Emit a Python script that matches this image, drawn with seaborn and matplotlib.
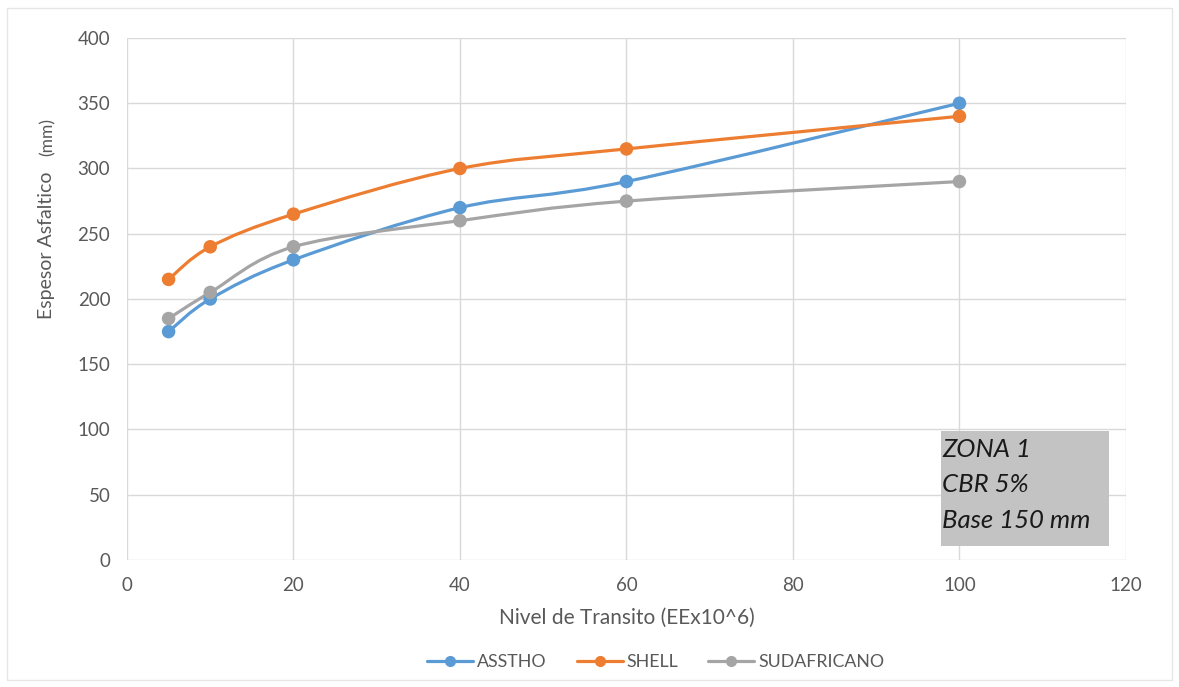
import numpy as np
import pandas as pd
import matplotlib
matplotlib.use("Agg")
import matplotlib.pyplot as plt
from matplotlib.path import Path
from matplotlib.patches import PathPatch, Rectangle
from matplotlib.lines import Line2D
import seaborn as sns

# Traffic levels (EE x 10^6) and asphalt thickness (mm) per design method
transito = [5, 10, 20, 40, 60, 100]
asstho = [175, 200, 230, 270, 290, 350]
shell = [215, 240, 265, 300, 315, 340]
sudafricano = [185, 205, 240, 260, 275, 290]

series_names = ["ASSTHO", "SHELL", "SUDAFRICANO"]
colors = ["#5B9BD5", "#ED7D31", "#A5A5A5"]

df = pd.DataFrame({
    "Nivel": transito * 3,
    "Espesor": asstho + shell + sudafricano,
    "Metodo": [n for n in series_names for _ in transito],
})

sns.set_theme(style="whitegrid")
plt.rcParams["font.family"] = ["Lato", "DejaVu Sans"]
text_color = "#595959"

fig = plt.figure(figsize=(11.79, 6.87), dpi=100)
ax = fig.add_axes([0.1077, 0.1849, 0.8473, 0.7598])


def smooth_path(xs, ys):
    """Catmull-Rom style Bezier path through the points (spreadsheet smoothing)."""
    pts = np.column_stack([xs, ys]).astype(float)
    n = len(pts)
    verts = [pts[0]]
    codes = [Path.MOVETO]
    for i in range(n - 1):
        p0 = pts[i - 1] if i > 0 else pts[i]
        p1 = pts[i]
        p2 = pts[i + 1]
        p3 = pts[i + 2] if i + 2 < n else pts[i + 1]
        c1 = p1 + (p2 - p0) / 6.0
        c2 = p2 - (p3 - p1) / 6.0
        verts += [c1, c2, p2]
        codes += [Path.CURVE4] * 3
    return Path(verts, codes)


for name, col in zip(series_names, colors):
    sub = df[df["Metodo"] == name]
    ax.add_patch(PathPatch(smooth_path(sub["Nivel"].values, sub["Espesor"].values),
                           facecolor="none", edgecolor=col, lw=2.3, zorder=3))

sns.scatterplot(data=df, x="Nivel", y="Espesor", hue="Metodo", palette=colors,
                s=95, edgecolor="none", legend=False, ax=ax, zorder=4)

ax.set_xlim(0, 120)
ax.set_ylim(0, 400)
ax.set_xticks(np.arange(0, 121, 20))
ax.set_yticks(np.arange(0, 401, 50))
ax.grid(True, color="#D9D9D9", lw=1)
for s in ax.spines.values():
    s.set_visible(False)
ax.tick_params(axis="both", length=0, labelsize=13.5, colors=text_color)
ax.tick_params(axis="y", pad=12)
ax.tick_params(axis="x", pad=12)

ax.set_xlabel("Nivel de Transito (EEx10^6)", fontsize=15, color=text_color, labelpad=10)
ax.set_ylabel("")
# Y-axis title: main words plus a smaller unit
ax.text(-0.081, 0.603, "Espesor Asfaltico", transform=ax.transAxes, rotation=90,
        ha="center", va="center", fontsize=14, color=text_color)
ax.text(-0.079, 0.81, "(mm)", transform=ax.transAxes, rotation=90,
        ha="center", va="center", fontsize=12.5, color=text_color)

# Annotation box with zone parameters
ax.add_patch(Rectangle((97.8, 10.5), 20.2, 88.5, facecolor="#C3C3C3", edgecolor="none", zorder=2))
for yv, line in zip([84.3, 57.5, 30.0], ["ZONA 1", "CBR 5%", "Base 150 mm"]):
    ax.text(97.9, yv, line, fontsize=18.5, style="italic", color="#1a1a1a",
            va="center", ha="left", zorder=5)

handles = [Line2D([0], [0], color=c, lw=2.3, marker="o", markersize=7) for c in colors]
fig.legend(handles, series_names, loc="center", bbox_to_anchor=(0.556, 0.036), ncol=3,
           frameon=False, fontsize=12.8, labelcolor=text_color, handlelength=2.6,
           columnspacing=1.7, handletextpad=0.2)

# Light outer frame
fig.add_artist(Rectangle((0.006, 0.01), 0.988, 0.978, transform=fig.transFigure,
                         facecolor="none", edgecolor="#E6E6E6", lw=1))

fig.savefig("out.png", dpi=100)
